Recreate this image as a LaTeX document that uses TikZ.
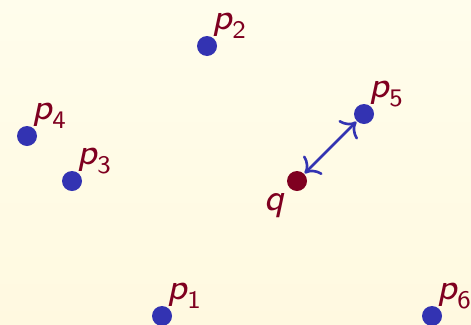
\documentclass[tikz,border=0pt]{standalone}
\usepackage{amsmath}
\usepackage{xcolor}
\usepackage{tikz}
\usetikzlibrary{arrows.meta}
\definecolor{ptblue}{HTML}{3333B2}
\definecolor{ptred}{HTML}{7F0020}
\definecolor{bgtop}{HTML}{FFFDEC}
\definecolor{bgbottom}{HTML}{FFF9E0}
\newcommand{\sfp}[1]{$\textsf{\textit{p}}_{\mkern-0.8mu\textsf{#1}}$}

\begin{document}
\begin{tikzpicture}[x=0.23pt, y=-0.23pt,
    site/.style={circle, fill=ptblue, inner sep=0pt, minimum size=4.6pt},
    query/.style={circle, fill=ptred, inner sep=0pt, minimum size=4.6pt},
    tag/.style={inner sep=0pt, text=ptred, label distance=-0.5pt, xshift=-0.3pt,
      font=\fontsize{8.3}{10}\selectfont}]
  \shade[top color=bgtop, bottom color=bgbottom] (0,0) rectangle (471,324);
  \useasboundingbox (0,0) rectangle (471,324);

  \node[site, label={[tag]above right:\sfp{1}}] (p1) at (162,316) {};
  \node[site, label={[tag]above right:\sfp{2}}] (p2) at (207,46) {};
  \node[site, label={[tag]above right:\sfp{3}}] (p3) at (72,181) {};
  \node[site, label={[tag]above right:\sfp{4}}] (p4) at (27,136) {};
  \node[site, label={[tag]above right:\sfp{5}}] (p5) at (364,114) {};
  \node[site, label={[tag]above right:\sfp{6}}] (p6) at (432,316) {};
  \node[query, label={[tag, xshift=-0.9pt, yshift=-1.2pt, font=\fontsize{8.6}{10}\selectfont]below left:$\textsf{\textit{q}}$}] (q) at (297,181) {};

  % nearest site
  \draw[ptblue, semithick, {To}-{To}] (q) -- (p5);
\end{tikzpicture}
\end{document}
